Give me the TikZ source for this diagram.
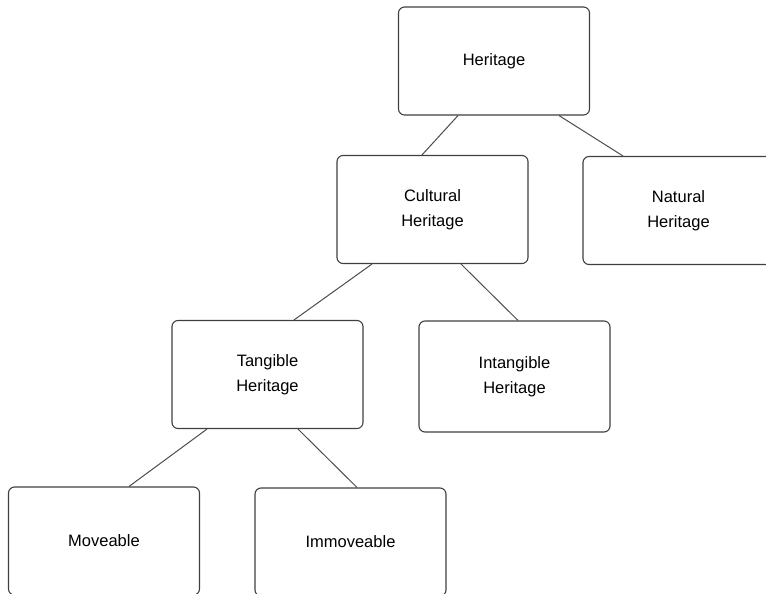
\documentclass[tikz,border=0pt]{standalone}
\usepackage{fontspec}
\setmainfont{Liberation Sans}
\begin{document}
\begin{tikzpicture}[x=1pt,y=-1pt,
 block/.style ={rectangle, draw=black!75, line width=1.1pt, fill=white, align=center, rounded corners=6pt, minimum width=191pt, minimum height=108pt, font=\fontsize{16.5}{25}\selectfont},
 line/.style ={draw=black!70, line width=1pt}]

\useasboundingbox (0,0) rectangle (766,594);

\draw (494,61) node[block] (Her) {Heritage};

\draw (432.5,209.5) node[block] (Cult) {Cultural\\Heritage};
\draw (678.5,210.5) node[block] (Nat) {Natural\\Heritage};

\draw (267.5,374.5) node[block] (Tang) {Tangible\\Heritage};
\draw (514.5,376.5) node[block, minimum height=111pt] (Intang) {Intangible\\Heritage};

\draw (104,541) node[block] (Move) {Moveable};
\draw (350.5,542) node[block] (Immove) {Immoveable};

	\draw [line] ([xshift=-36pt]Her.south) to ([xshift=-10.5pt]Cult.north);
	\draw [line] ([xshift=65pt]Her.south) to ([xshift=-55.5pt]Nat.north);
	\draw [line] ([xshift=-60.5pt]Cult.south) to ([xshift=26.5pt]Tang.north);
	\draw [line] ([xshift=28.5pt]Cult.south) to ([xshift=3.5pt]Intang.north);
	\draw [line] ([xshift=-60.5pt]Tang.south) to ([xshift=25pt]Move.north);
	\draw [line] ([xshift=30.5pt]Tang.south) to ([xshift=6.5pt]Immove.north);

\end{tikzpicture}
\end{document}
